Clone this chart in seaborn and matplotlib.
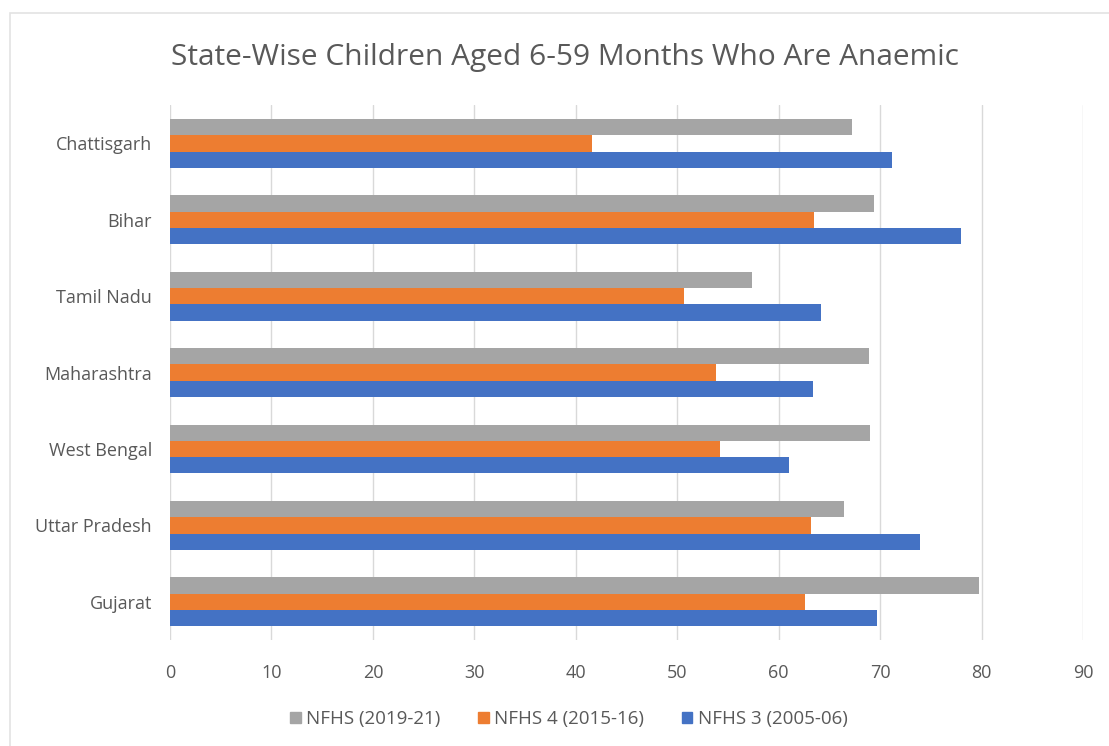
import pandas as pd
import seaborn as sns
import matplotlib.pyplot as plt
from matplotlib.patches import Rectangle

states = ['Chattisgarh', 'Bihar', 'Tamil Nadu', 'Maharashtra', 'West Bengal', 'Uttar Pradesh', 'Gujarat']
series = ['NFHS (2019-21)', 'NFHS 4 (2015-16)', 'NFHS 3 (2005-06)']
nfhs5 = [67.2, 69.4, 57.4, 68.9, 69.0, 66.4, 79.7]
nfhs4 = [41.6, 63.5, 50.7, 53.8, 54.2, 63.2, 62.6]
nfhs3 = [71.2, 78.0, 64.2, 63.4, 61.0, 73.9, 69.7]
colors = ['#A5A5A5', '#ED7D31', '#4472C4']

df = pd.DataFrame({
    'state': states * 3,
    'series': [s for s in series for _ in states],
    'value': nfhs5 + nfhs4 + nfhs3,
})

sns.set_style('white')
plt.rcParams['font.family'] = ['Open Sans', 'DejaVu Sans']

fig = plt.figure(figsize=(11.09, 7.46), dpi=100)
ax = fig.add_axes([0.1533, 0.142, 0.8233, 0.717])

sns.barplot(data=df, x='value', y='state', hue='series', hue_order=series,
            order=states, palette=colors, orient='h', width=0.64,
            saturation=1, linewidth=0, ax=ax, legend=False)

ax.set_xlim(0, 90)
ax.set_ylim(6.5, -0.5)
ax.set_xticks(range(0, 91, 10))
ax.xaxis.grid(True, color='#D9D9D9', linewidth=1)
ax.set_axisbelow(True)
for s in ax.spines.values():
    s.set_visible(False)
ax.set_xlabel('')
ax.set_ylabel('')
ax.tick_params(axis='both', length=0, labelsize=13, labelcolor='#595959')
ax.tick_params(axis='x', pad=17)
ax.tick_params(axis='y', pad=13)

fig.text(0.509, 0.923, 'State-Wise Children Aged 6-59 Months Who Are Anaemic',
         ha='center', va='center', fontsize=21.5, color='#595959')

handles = [Rectangle((0, 0), 1, 1, color=c) for c in colors]
fig.legend(handles, series, loc='center', bbox_to_anchor=(0.513, 0.036), ncol=3,
           frameon=False, fontsize=13.5, labelcolor='#595959',
           handlelength=0.55, handleheight=0.55, handletextpad=0.3, columnspacing=2.0)

fig.patches.append(Rectangle((0.009, -0.01), 1.0, 0.992, transform=fig.transFigure,
                             fill=False, edgecolor='#E3E3E3', linewidth=1.2))

fig.savefig('out.png', dpi=100)
